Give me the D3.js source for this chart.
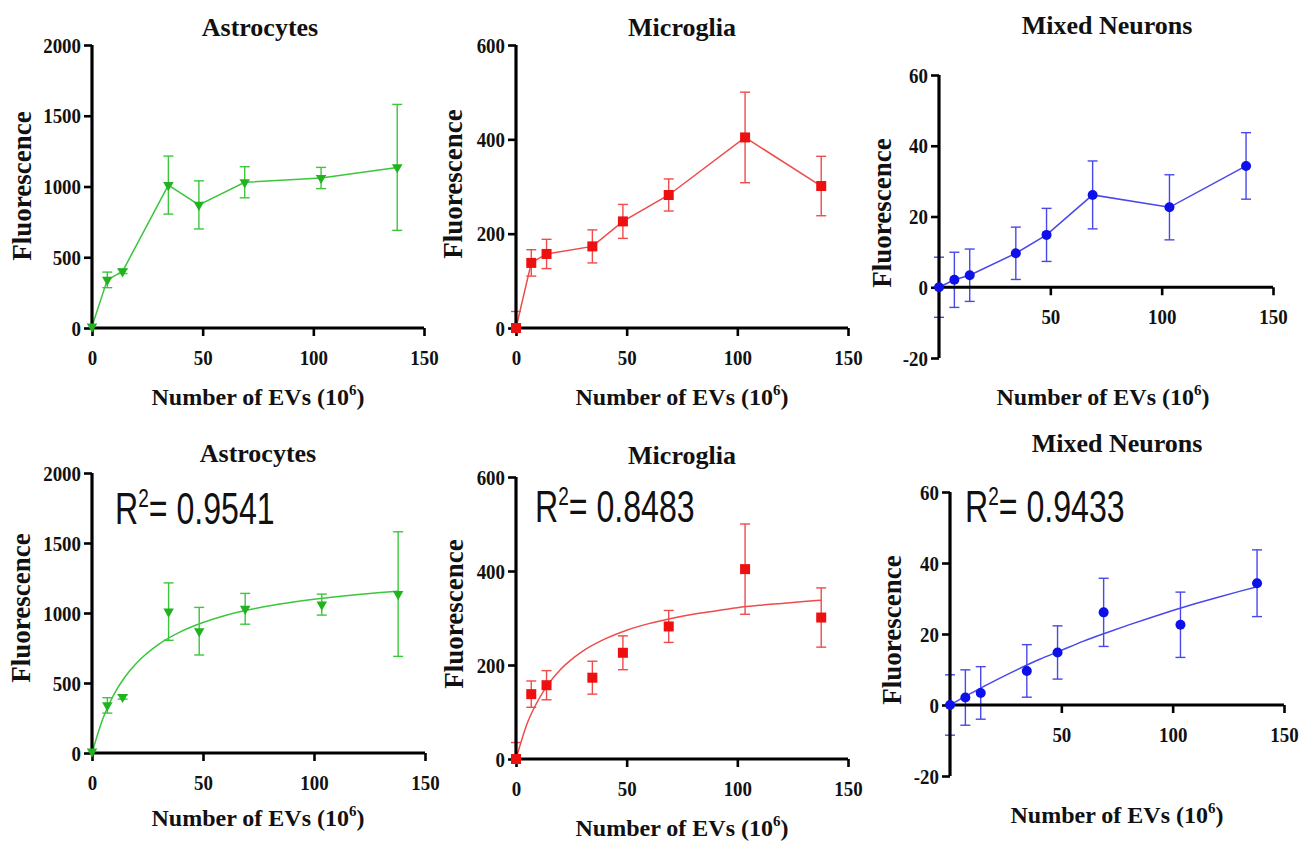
<!DOCTYPE html>
<html>
<head>
<meta charset="utf-8">
<script src="https://cdn.jsdelivr.net/npm/d3@7"></script>
<style>
body { margin: 0; background: #fff; }
text { font-family: "Liberation Serif", "Times New Roman", serif; font-weight: bold; fill: #111; }
</style>
</head>
<body>
<div class="container"></div>
<script>
// number of EVs (10^6) per well
const evs = [0, 6.9, 13.8, 34.5, 48.3, 69, 103.5, 137.9]

const astroMean = [10, 340, 400, 1010, 870, 1030, 1060, 1135]
const astroErr = [0, 55, 15, 205, 170, 110, 75, 445]
const microMean = [0, 138, 157, 173, 226, 282, 404, 301]
const microErr = [35, 28, 31, 35, 36, 34, 96, 63]
const neuroMean = [0, 2.1, 3.4, 9.6, 14.8, 26.1, 22.6, 34.3]
const neuroErr = [8.5, 7.8, 7.4, 7.4, 7.5, 9.6, 9.2, 9.4]

// fitted curves
const fitX = [0, 5, 10, 15, 20, 30, 40, 50, 60, 70, 80, 90, 100, 110, 120, 130, 137.9]
const astroFit = [0, 250, 422, 546, 641, 776, 867, 932, 982, 1021, 1052, 1077, 1098, 1116, 1132, 1146, 1155]
const microFit = [0, 75, 125, 162, 190, 229, 255, 274, 288, 299, 308, 315, 322, 327, 331, 335, 338]
const neuroFit = [0, 1.8, 3.5, 5.2, 6.8, 9.9, 12.8, 15.4, 18, 20.3, 22.5, 24.6, 26.6, 28.5, 30.3, 32, 33.3]

const titles = ["Astrocytes", "Microglia", "Mixed Neurons"]
const r2Labels = ["0.9541", "0.8483", "0.9433"]
const astroTicks = [0, 500, 1000, 1500, 2000]
const microTicks = [0, 200, 400, 600]
const neuroTicks = [-20, 0, 20, 40, 60]
const xTicks = [0, 50, 100, 150]

const series = [
    {mean: astroMean, err: astroErr, fit: astroFit, yTicks: astroTicks, sym: "tri", line: "#3cc63c", mark: "#1fb41f"},
    {mean: microMean, err: microErr, fit: microFit, yTicks: microTicks, sym: "sq", line: "#ee4b4b", mark: "#ec1010"},
    {mean: neuroMean, err: neuroErr, fit: neuroFit, yTicks: neuroTicks, sym: "dot", line: "#4848ec", mark: "#0d10e8"}
]

// pixel layout of the six panels
const layout = [
    {xr: [92, 424], yr: [328, 45], title: [260, 36], xlab: [258, 405], ylab: [22, 186]},
    {xr: [516, 848], yr: [328, 45], title: [682, 36], xlab: [682, 405], ylab: [453, 184]},
    {xr: [939, 1273], yr: [358, 75], title: [1107, 34], xlab: [1103, 405], ylab: [882, 213]},
    {xr: [92, 425], yr: [753, 473], title: [258, 462], xlab: [258, 826], ylab: [21, 608], r2: [115, 524]},
    {xr: [516, 848], yr: [759, 477], title: [682, 464], xlab: [682, 836], ylab: [454, 614], r2: [535, 522]},
    {xr: [950, 1284], yr: [776, 492], title: [1117, 452], xlab: [1117, 823], ylab: [892, 630], r2: [965, 522]}
]

const svg = d3.select(".container").append("svg")
    .attr("width", 1316)
    .attr("height", 848)

layout.forEach((box, i) => {
    const s = series[i % 3]
    const fitted = i >= 3
    const g = svg.append("g")
    const yDom = d3.extent(s.yTicks)
    const x = d3.scaleLinear().domain([0, 150]).range(box.xr)
    const y = d3.scaleLinear().domain(yDom).range(box.yr)
    const y0 = yDom[0] < 0 ? y(0) : box.yr[0]

    // error bars
    const cap = 5
    evs.forEach((ev, k) => {
        const e = s.err[k]
        if (!e) return
        const hi = s.mean[k] + e
        const lo = Math.max(s.mean[k] - e, yDom[0])
        const cx = x(ev)
        g.append("line").attr("x1", cx).attr("x2", cx).attr("y1", y(hi)).attr("y2", y(lo))
            .attr("stroke", s.line).attr("stroke-width", 1.4)
        g.append("line").attr("x1", cx - cap).attr("x2", cx + cap).attr("y1", y(hi)).attr("y2", y(hi))
            .attr("stroke", s.line).attr("stroke-width", 1.4)
        if (s.mean[k] - e > yDom[0])
            g.append("line").attr("x1", cx - cap).attr("x2", cx + cap).attr("y1", y(lo)).attr("y2", y(lo))
                .attr("stroke", s.line).attr("stroke-width", 1.4)
    })

    // connecting line or fitted curve
    if (fitted) {
        const curve = d3.line().x((d, k) => x(fitX[k])).y(d => y(d)).curve(d3.curveMonotoneX)
        g.append("path").attr("d", curve(s.fit)).attr("fill", "none")
            .attr("stroke", s.line).attr("stroke-width", 1.5)
    } else {
        const path = d3.line().x((d, k) => x(evs[k])).y(d => y(d))
        g.append("path").attr("d", path(s.mean)).attr("fill", "none")
            .attr("stroke", s.line).attr("stroke-width", 1.5)
    }

    // axes
    const yAxis = d3.axisLeft(y).tickValues(s.yTicks).tickSize(8).tickPadding(3).tickSizeOuter(0)
        .tickFormat(d => String(d))
    const ya = g.append("g").attr("transform", `translate(${x(0)},0)`).call(yAxis)
    const xt = yDom[0] < 0 ? [50, 100, 150] : xTicks
    const xAxis = d3.axisBottom(x).tickValues(xt).tickSize(8).tickPadding(13).tickSizeOuter(0)
    const xa = g.append("g").attr("transform", `translate(0,${y0})`).call(xAxis)
    ;[ya, xa].forEach(a => {
        a.attr("font-family", "Liberation Serif").attr("font-size", 22)
        a.select(".domain").attr("stroke", "#000").attr("stroke-width", 3.2)
        a.selectAll(".tick line").attr("stroke", "#000").attr("stroke-width", 2.6)
        a.selectAll(".tick text").attr("fill", "#111")
            .style("font-family", "Liberation Serif").style("font-size", "22px").style("font-weight", "bold")
            .attr("transform", "scale(0.86,1)")
    })
    // left labels: compensate the squeeze so they stay next to the ticks
    ya.selectAll(".tick text").attr("x", -11 / 0.86)
    // x axis should end on the 150 tick
    xa.select(".domain").attr("d", `M${box.xr[0]},0H${box.xr[1]}`)
    ya.select(".domain").attr("d", `M0,${box.yr[0]}V${box.yr[1]}`)

    // markers
    evs.forEach((ev, k) => {
        const cx = x(ev), cy = y(s.mean[k])
        if (s.sym === "tri") {
            g.append("path").attr("d", d3.symbol(d3.symbolTriangle, 48)())
                .attr("transform", `translate(${cx},${cy}) rotate(180)`).attr("fill", s.mark)
        } else if (s.sym === "sq") {
            g.append("rect").attr("x", cx - 5).attr("y", cy - 5).attr("width", 10).attr("height", 10)
                .attr("fill", s.mark)
        } else {
            g.append("circle").attr("cx", cx).attr("cy", cy).attr("r", 5).attr("fill", s.mark)
        }
    })

    // titles and labels
    g.append("text").attr("x", box.title[0]).attr("y", box.title[1]).attr("text-anchor", "middle")
        .style("font-size", "26px").text(titles[i % 3])

    const xl = g.append("text").attr("x", box.xlab[0]).attr("y", box.xlab[1]).attr("text-anchor", "middle")
        .style("font-size", "24px")
    xl.append("tspan").text("Number of EVs (10")
    xl.append("tspan").attr("dy", -10).style("font-size", "15px").text("6")
    xl.append("tspan").attr("dy", 10).text(")")

    g.append("text").attr("transform", `translate(${box.ylab[0] + 9},${box.ylab[1]}) rotate(-90)`)
        .attr("text-anchor", "middle").style("font-size", "27px").text("Fluorescence")

    if (fitted) {
        const r = g.append("text").attr("transform", `translate(${box.r2[0]},${box.r2[1]}) scale(0.73,1)`)
            .style("font-family", "'Liberation Sans', Arial, sans-serif").style("font-weight", "normal")
            .style("font-size", "44px").attr("fill", "#222")
        r.append("tspan").text("R")
        r.append("tspan").attr("dy", -17).style("font-size", "26px").text("2")
        r.append("tspan").attr("dy", 17).text("= " + r2Labels[i % 3])
    }
})
</script>
</body>
</html>
